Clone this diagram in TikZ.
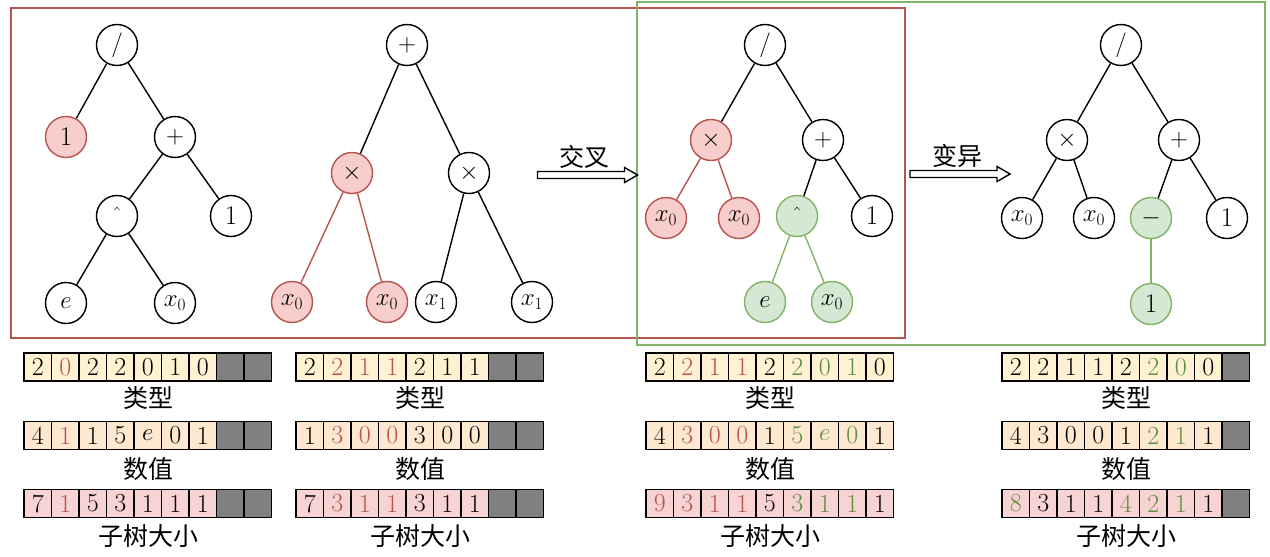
\documentclass[tikz,border=0pt]{standalone}
\usepackage{fontspec}
\newfontfamily\cjk{Noto Sans CJK SC}
\usetikzlibrary{positioning,shapes.arrows}
\definecolor{redln}{HTML}{B85450}
\definecolor{redbg}{HTML}{F8CECC}
\definecolor{grnln}{HTML}{82B366}
\definecolor{grnbg}{HTML}{D5E8D4}
\definecolor{grntx}{HTML}{5F8F40}
\definecolor{typbg}{HTML}{FFF2D2}
\definecolor{valbg}{HTML}{FFE8D0}
\definecolor{sizbg}{HTML}{F8D3D3}
\definecolor{nilbg}{HTML}{808080}
\newcommand{\rd}[1]{\textcolor{redln}{#1}}
\newcommand{\gn}[1]{\textcolor{grntx}{#1}}

\begin{document}
\begin{tikzpicture}[x=1pt,y=-1pt,font=\fontsize{27}{31}\selectfont,
nd/.style={circle,draw,line width=1.4pt,minimum size=41pt,inner sep=0pt},
rnd/.style={nd,draw=redln,fill=redbg},
gnd/.style={nd,draw=grnln,fill=grnbg},
ln/.style={line width=1.4pt},
rln/.style={ln,draw=redln},
gln/.style={ln,draw=grnln},
cell/.style={draw,line width=1.4pt,minimum width=27.5pt,minimum height=28pt,inner sep=0pt,font=\fontsize{26}{30}\selectfont},
lbl/.style={font=\cjk\fontsize{25}{30}\selectfont},
harrow/.style={single arrow,draw,line width=1.4pt,fill=white,minimum height=100pt,inner sep=2.8pt,
  single arrow head extend=4pt,single arrow tip angle=60},
frame/.style={line width=1.4pt}]
\useasboundingbox (0,0) rectangle (1270,557);

% frames
\draw[frame,redln] (11,8) rectangle (905,338);
\draw[frame,grnln] (637,2) rectangle (1265,345);

% parent 1
\node[nd] (a0) at (117,45) {$/$};
\node[rnd] (a1) at (66,137) {1};
\node[nd] (a2) at (175,137) {$+$};
\node[nd] (a3) at (117,216) {$\hat{}$};
\node[nd] (a4) at (231,216) {1};
\node[nd] (a5) at (66,303) {$e$};
\node[nd] (a6) at (175,303) {$x_0$};
\draw[ln] (a0)--(a1);
\draw[ln] (a0)--(a2);
\draw[ln] (a2)--(a3);
\draw[ln] (a2)--(a4);
\draw[ln] (a3)--(a5);
\draw[ln] (a3)--(a6);

% parent 2
\node[nd] (b0) at (407,45) {$+$};
\node[rnd] (b1) at (352,173) {$\times$};
\node[nd] (b2) at (469,173) {$\times$};
\node[rnd] (b3) at (292,302) {$x_0$};
\node[rnd] (b4) at (387,302) {$x_0$};
\node[nd] (b5) at (436,302) {$x_1$};
\node[nd] (b6) at (532,302) {$x_1$};
\draw[ln] (b0)--(b1);
\draw[ln] (b0)--(b2);
\draw[rln] (b1)--(b3);
\draw[rln] (b1)--(b4);
\draw[ln] (b2)--(b5);
\draw[ln] (b2)--(b6);

% crossover
\node[harrow] (xarr) at (584.5,175) {};
\node[lbl,above=-1pt of xarr] (xlbl) {交叉};

% child
\node[nd] (c0) at (765,45) {$/$};
\node[rnd] (c1) at (711,140) {$\times$};
\node[nd] (c2) at (823,140) {$+$};
\node[rnd] (c3) at (666,218) {$x_0$};
\node[rnd] (c4) at (739,218) {$x_0$};
\node[gnd] (c5) at (797,216) {$\hat{}$};
\node[nd] (c6) at (872,216) {1};
\node[gnd] (c7) at (765,302) {$e$};
\node[gnd] (c8) at (832,302) {$x_0$};
\draw[ln] (c0)--(c1);
\draw[ln] (c0)--(c2);
\draw[rln] (c1)--(c3);
\draw[rln] (c1)--(c4);
\draw[ln] (c2)--(c5);
\draw[ln] (c2)--(c6);
\draw[gln] (c5)--(c7);
\draw[gln] (c5)--(c8);

% mutation
\node[harrow] (marr) at (957,174) {};
\node[lbl,above=-1pt of marr] (mlbl) {变异};

% mutant
\node[nd] (d0) at (1121,45) {$/$};
\node[nd] (d1) at (1067,140) {$\times$};
\node[nd] (d2) at (1179,140) {$+$};
\node[nd] (d3) at (1022,218) {$x_0$};
\node[nd] (d4) at (1094,218) {$x_0$};
\node[gnd] (d5) at (1151,218) {$-$};
\node[nd] (d6) at (1227,218) {1};
\node[gnd] (d7) at (1151,304) {1};
\draw[ln] (d0)--(d1);
\draw[ln] (d0)--(d2);
\draw[ln] (d1)--(d3);
\draw[ln] (d1)--(d4);
\draw[ln] (d2)--(d5);
\draw[ln] (d2)--(d6);
\draw[gln] (d5)--(d7);

% arrays of parent 1
\foreach \v [count=\i] in {2,\rd0,2,2,0,1,0}
  \node[cell,fill=typbg] (p1t\i) at ({24+27.5*(\i-0.5)},367) {\v};
\foreach \v [count=\i] in {4,\rd1,1,5,$e$,0,1}
  \node[cell,fill=valbg] (p1v\i) at ({24+27.5*(\i-0.5)},435.5) {\v};
\foreach \v [count=\i] in {7,\rd1,5,3,1,1,1}
  \node[cell,fill=sizbg] (p1s\i) at ({24+27.5*(\i-0.5)},503.5) {\v};
\foreach \r/\y in {t/367,v/435.5,s/503.5}
  \foreach \i in {8,9}
    \node[cell,fill=nilbg] (p1\r\i) at ({24+27.5*(\i-0.5)},\y) {};
\node[lbl] (p1tl) at (148,398) {类型};
\node[lbl] (p1vl) at (148,469) {数值};
\node[lbl] (p1sl) at (148,536) {子树大小};

% arrays of parent 2
\foreach \v [count=\i] in {2,\rd2,\rd1,\rd1,2,1,1}
  \node[cell,fill=typbg] (p2t\i) at ({296+27.5*(\i-0.5)},367) {\v};
\foreach \v [count=\i] in {1,\rd3,\rd0,\rd0,3,0,0}
  \node[cell,fill=valbg] (p2v\i) at ({296+27.5*(\i-0.5)},435.5) {\v};
\foreach \v [count=\i] in {7,\rd3,\rd1,\rd1,3,1,1}
  \node[cell,fill=sizbg] (p2s\i) at ({296+27.5*(\i-0.5)},503.5) {\v};
\foreach \r/\y in {t/367,v/435.5,s/503.5}
  \foreach \i in {8,9}
    \node[cell,fill=nilbg] (p2\r\i) at ({296+27.5*(\i-0.5)},\y) {};
\node[lbl] (p2tl) at (420,398) {类型};
\node[lbl] (p2vl) at (420,469) {数值};
\node[lbl] (p2sl) at (420,536) {子树大小};

% arrays of child
\foreach \v [count=\i] in {2,\rd2,\rd1,\rd1,2,\gn2,\gn0,\gn1,0}
  \node[cell,fill=typbg] (ct\i) at ({646+27.5*(\i-0.5)},367) {\v};
\foreach \v [count=\i] in {4,\rd3,\rd0,\rd0,1,\gn5,\gn{$e$},\gn0,1}
  \node[cell,fill=valbg] (cv\i) at ({646+27.5*(\i-0.5)},435.5) {\v};
\foreach \v [count=\i] in {\rd9,\rd3,\rd1,\rd1,5,\gn3,\gn1,\gn1,1}
  \node[cell,fill=sizbg] (cs\i) at ({646+27.5*(\i-0.5)},503.5) {\v};
\node[lbl] (ctl) at (770,398) {类型};
\node[lbl] (cvl) at (770,469) {数值};
\node[lbl] (csl) at (770,536) {子树大小};

% arrays of mutant
\foreach \v [count=\i] in {2,2,1,1,2,\gn2,\gn0,0}
  \node[cell,fill=typbg] (mt\i) at ({1002+27.5*(\i-0.5)},367) {\v};
\foreach \v [count=\i] in {4,3,0,0,1,\gn2,\gn1,1}
  \node[cell,fill=valbg] (mv\i) at ({1002+27.5*(\i-0.5)},435.5) {\v};
\foreach \v [count=\i] in {\gn8,3,1,1,\gn4,\gn2,\gn1,1}
  \node[cell,fill=sizbg] (ms\i) at ({1002+27.5*(\i-0.5)},503.5) {\v};
\foreach \r/\y in {t/367,v/435.5,s/503.5}
  \node[cell,fill=nilbg] (m\r9) at ({1002+27.5*8.5},\y) {};
\node[lbl] (mtl) at (1126,398) {类型};
\node[lbl] (mvl) at (1126,469) {数值};
\node[lbl] (msl) at (1126,536) {子树大小};
\end{tikzpicture}
\end{document}
